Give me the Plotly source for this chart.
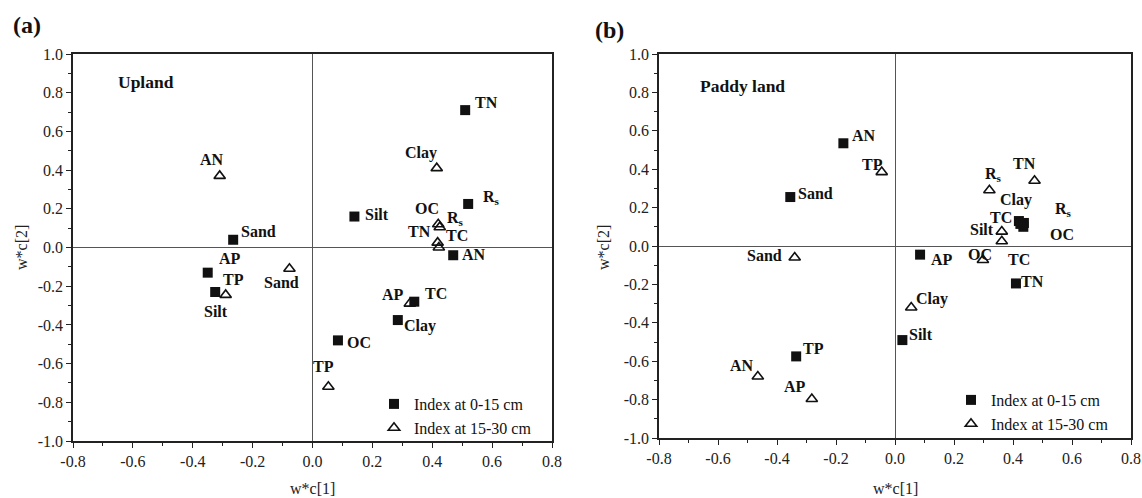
import plotly.graph_objects as go

# ---------------- data ----------------
# Panel (a) Upland
a_sq_names = ["TN", "R<sub>s</sub>", "Silt", "AN", "TC", "Clay", "OC", "Sand", "AP", "TP"]
a_sq_x = [0.51, 0.52, 0.14, 0.47, 0.34, 0.285, 0.085, -0.265, -0.35, -0.325]
a_sq_y = [0.71, 0.225, 0.16, -0.04, -0.28, -0.375, -0.48, 0.04, -0.13, -0.23]

a_tr_names = ["AN", "Clay", "OC", "R<sub>s</sub>", "TN", "TC", "Sand", "Silt", "AP", "TP"]
a_tr_x = [-0.31, 0.415, 0.42, 0.425, 0.418, 0.422, -0.077, -0.29, 0.325, 0.053]
a_tr_y = [0.37, 0.41, 0.12, 0.105, 0.025, 0.0, -0.11, -0.245, -0.29, -0.72]

# Panel (b) Paddy land
b_sq_names = ["AN", "Sand", "TP", "AP", "TN", "Silt", "Clay", "TC", "R<sub>s</sub>", "OC"]
b_sq_x = [-0.175, -0.355, -0.335, 0.085, 0.41, 0.025, 0.42, 0.425, 0.437, 0.435]
b_sq_y = [0.535, 0.255, -0.575, -0.045, -0.195, -0.49, 0.13, 0.115, 0.12, 0.10]

b_tr_names = ["TP", "R<sub>s</sub>", "TN", "Silt", "TC", "OC", "Sand", "Clay", "AN", "AP"]
b_tr_x = [-0.045, 0.32, 0.473, 0.362, 0.362, 0.298, -0.34, 0.055, -0.465, -0.282]
b_tr_y = [0.385, 0.29, 0.34, 0.075, 0.025, -0.073, -0.06, -0.32, -0.68, -0.797]

tick_vals = [-1.0, -0.8, -0.6, -0.4, -0.2, 0.0, 0.2, 0.4, 0.6, 0.8, 1.0]
tick_text = ["-1.0", "-0.8", "-0.6", "-0.4", "-0.2", "0.0", "0.2", "0.4", "0.6", "0.8", "1.0"]

legend_names = ["Index at 0-15 cm", "Index at 15-30 cm"]
panel_titles = ["Upland", "Paddy land"]
panel_tags = ["(a)", "(b)"]

# ---------------- label placement (pixel offsets: dx right, dy down) ----------------
a_sq_off = [(21, -8), (23, -6), (23, -2), (21, -1), (22, -8), (22, 6), (21, 2), (25, -8), (22, -14), (18, -13)]
a_tr_off = [(-8, -16), (-16, -15), (-11, -16), (16, -9), (-18, -11), (18, -12), (-8, 14), (-10, 17), (-17, -9), (-5, -20)]
b_sq_off = [(21, -8), (25, -4), (17, -8), (22, 5), (17, -2), (19, -6), (-3, -21), (-19, -6), (40, -13), (39, 8)]
b_tr_off = [(-9, -8), (4, -16), (-10, -17), (-20, -2), (17, 18), (-3, -6), (-30, -2), (21, -8), (-16, -11), (-17, -13)]

FONT = "Liberation Serif, Times New Roman, serif"

fig = go.Figure()

panels = [
    ("x", "y", a_sq_x, a_sq_y, a_sq_names, a_sq_off, a_tr_x, a_tr_y, a_tr_names, a_tr_off, "legend"),
    ("x2", "y2", b_sq_x, b_sq_y, b_sq_names, b_sq_off, b_tr_x, b_tr_y, b_tr_names, b_tr_off, "legend2"),
]

annotations = []
for (xa, ya, sx, sy, sn, so, tx, ty, tn, to, lg) in panels:
    fig.add_trace(go.Scatter(
        x=sx, y=sy, mode="markers", xaxis=xa, yaxis=ya, name=legend_names[0], legend=lg,
        marker=dict(symbol="square", size=10, color="#111111", line=dict(width=0)),
        hoverinfo="skip"))
    fig.add_trace(go.Scatter(
        x=tx, y=ty, mode="markers", xaxis=xa, yaxis=ya, name=legend_names[1], legend=lg,
        marker=dict(symbol="triangle-up-open", size=10, color="#111111", line=dict(width=1.6, color="#111111")),
        hoverinfo="skip"))
    for xs, ys, ns, offs in ((sx, sy, sn, so), (tx, ty, tn, to)):
        for xv, yv, nm, (dx, dy) in zip(xs, ys, ns, offs):
            annotations.append(dict(
                x=xv, y=yv, xref=xa, yref=ya, text="<b>" + nm + "</b>", showarrow=False,
                xshift=dx, yshift=-dy, xanchor="center", yanchor="middle",
                font=dict(family=FONT, size=16, color="#111111")))

# panel titles inside plots
annotations.append(dict(x=-0.655, y=0.857, xref="x", yref="y", text="<b>" + panel_titles[0] + "</b>",
                        showarrow=False, xanchor="left", yanchor="middle",
                        font=dict(family=FONT, size=17.5, color="#111111")))
annotations.append(dict(x=-0.667, y=0.832, xref="x2", yref="y2", text="<b>" + panel_titles[1] + "</b>",
                        showarrow=False, xanchor="left", yanchor="middle",
                        font=dict(family=FONT, size=17.5, color="#111111")))

W, H = 1142, 498
# panel tags
annotations.append(dict(x=27 / W, y=1 - 25 / H, xref="paper", yref="paper", text="<b>" + panel_tags[0] + "</b>",
                        showarrow=False, xanchor="center", yanchor="middle",
                        font=dict(family=FONT, size=24, color="#111111")))
annotations.append(dict(x=609 / W, y=1 - 30 / H, xref="paper", yref="paper", text="<b>" + panel_tags[1] + "</b>",
                        showarrow=False, xanchor="center", yanchor="middle",
                        font=dict(family=FONT, size=24, color="#111111")))
# axis titles
for cx, ylab_x, in ((312.5, 21), (895, 603)):
    annotations.append(dict(x=cx / W, y=1 - 488 / H, xref="paper", yref="paper", text="w*c[1]",
                            showarrow=False, xanchor="center", yanchor="middle",
                            font=dict(family=FONT, size=16, color="#222222")))
    annotations.append(dict(x=ylab_x / W, y=1 - 248 / H, xref="paper", yref="paper", text="w*c[2]",
                            showarrow=False, xanchor="center", yanchor="middle", textangle=-90,
                            font=dict(family=FONT, size=16, color="#222222")))

axis_common = dict(
    tickvals=tick_vals, ticktext=tick_text, showgrid=False, automargin=False,
    zeroline=True, zerolinecolor="#555555", zerolinewidth=1,
    showline=True, mirror=True, linecolor="#222222", linewidth=1.5,
    ticks="outside", ticklen=5, tickwidth=1.2, tickcolor="#222222",
    minor=dict(ticks="outside", ticklen=3, tickwidth=1.2, tickcolor="#222222", dtick=0.1, showgrid=False),
    tickfont=dict(family=FONT, size=16, color="#222222"),
)

fig.update_layout(
    template="none",
    width=W, height=H,
    autosize=False,
    margin=dict(l=0, r=0, t=0, b=0, pad=0, autoexpand=False),
    font=dict(family=FONT, color="#222222"),
    paper_bgcolor="white", plot_bgcolor="white",
    xaxis=dict(domain=[73 / W, 552 / W], range=[-0.8, 0.8], anchor="y", **axis_common),
    yaxis=dict(domain=[1 - 441 / H, 1 - 54 / H], range=[-1.0, 1.0], anchor="x", **axis_common),
    xaxis2=dict(domain=[659 / W, 1131 / W], range=[-0.8, 0.8], anchor="y2", **axis_common),
    yaxis2=dict(domain=[1 - 438 / H, 1 - 54 / H], range=[-1.0, 1.0], anchor="x2", **axis_common),
    legend=dict(x=374 / W, y=1 - 387 / H, xanchor="left", yanchor="top", bgcolor="rgba(0,0,0,0)",
                font=dict(family=FONT, size=16, color="#111111"), tracegroupgap=0, borderwidth=0),
    legend2=dict(x=951 / W, y=1 - 383 / H, xanchor="left", yanchor="top", bgcolor="rgba(0,0,0,0)",
                 font=dict(family=FONT, size=16, color="#111111"), tracegroupgap=0, borderwidth=0),
    annotations=annotations,
    showlegend=True,
)

fig.write_html("out.html")
